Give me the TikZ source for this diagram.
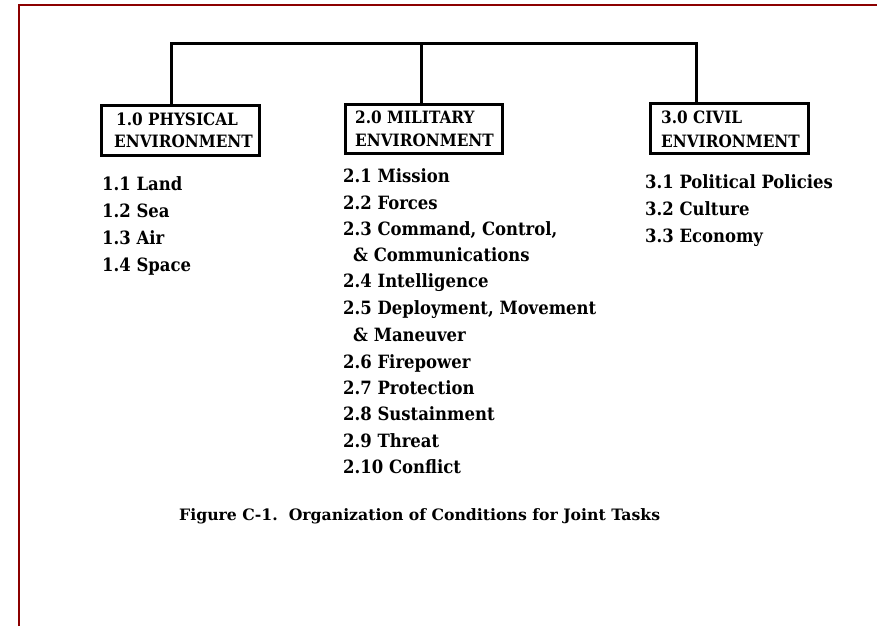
\documentclass[tikz,border=0pt]{standalone}
\usepackage{fontspec}
\setmainfont{DejaVu Serif}
\newfontfamily\narrowserif{DejaVu Serif Condensed}
\begin{document}
\begin{tikzpicture}[x=1pt,y=-1pt,
  frame/.style={draw=red!55!black,line width=2.2pt},
  link/.style={draw=black,line width=3pt},
  envbox/.style={draw=black,line width=3pt,inner sep=0pt},
  head/.style={anchor=base west,inner sep=0pt,font=\narrowserif\fontsize{17}{17}\selectfont\bfseries},
  item/.style={anchor=base west,inner sep=0pt,font=\narrowserif\fontsize{18.3}{18}\selectfont\bfseries},
  capt/.style={anchor=base west,inner sep=0pt,font=\fontsize{15.7}{16}\selectfont\bfseries}]
\useasboundingbox (0,0) rectangle (877,626);
% page frame
\draw[frame] (19,626) -- (19,5) -- (877,5);

% environment boxes
\node[envbox,minimum width=158pt,minimum height=50pt] (b1) at (180,130) {};
\node[envbox,minimum width=157pt,minimum height=49pt] (b2) at (423.5,128.5) {};
\node[envbox,minimum width=158pt,minimum height=50pt] (b3) at (729,128) {};

\node[head] (b1a) at (116,125) {1.0 PHYSICAL};
\node[head] (b1b) at (114,147) {ENVIRONMENT};
\node[head] (b2a) at (355,123) {2.0 MILITARY};
\node[head] (b2b) at (355,146) {ENVIRONMENT};
\node[head] (b3a) at (661,123) {3.0 CIVIL};
\node[head] (b3b) at (661,147) {ENVIRONMENT};

% tree connectors
\coordinate (j1) at (171,44);
\coordinate (j2) at (421,44);
\coordinate (j3) at (696,44);
\draw[link] (j1 |- b1.north) -- (j1) -- (j3) -- (j3 |- b3.north);
\draw[link] (j2) -- (j2 |- b2.north);

% physical environment
\node[item] (p1) at (102,190) {1.1 Land};
\node[item] (p2) at (102,217) {1.2 Sea};
\node[item] (p3) at (102,244) {1.3 Air};
\node[item] (p4) at (102,271) {1.4 Space};

% military environment
\node[item] (m1) at (343,182.7) {2.1 Mission};
\node[item] (m2) at (343,209) {2.2 Forces};
\node[item] (m3) at (343,235.5) {2.3 Command, Control,};
\node[item] (m3b) at (353,261) {\& Communications};
\node[item] (m4) at (343,287.5) {2.4 Intelligence};
\node[item] (m5) at (343,314.5) {2.5 Deployment, Movement};
\node[item] (m5b) at (353,341.5) {\& Maneuver};
\node[item] (m6) at (343,368) {2.6 Firepower};
\node[item] (m7) at (343,394.5) {2.7 Protection};
\node[item] (m8) at (343,420.7) {2.8 Sustainment};
\node[item] (m9) at (343,447) {2.9 Threat};
\node[item] (m10) at (343,473.3) {2.10 Conflict};

% civil environment
\node[item] (c1) at (645,188) {3.1 Political Policies};
\node[item] (c2) at (645,215) {3.2 Culture};
\node[item] (c3) at (645,242) {3.3 Economy};

% caption
\node[capt] (cap) at (179,520) {Figure C-1.\ \ Organization of Conditions for Joint Tasks};
\end{tikzpicture}
\end{document}
